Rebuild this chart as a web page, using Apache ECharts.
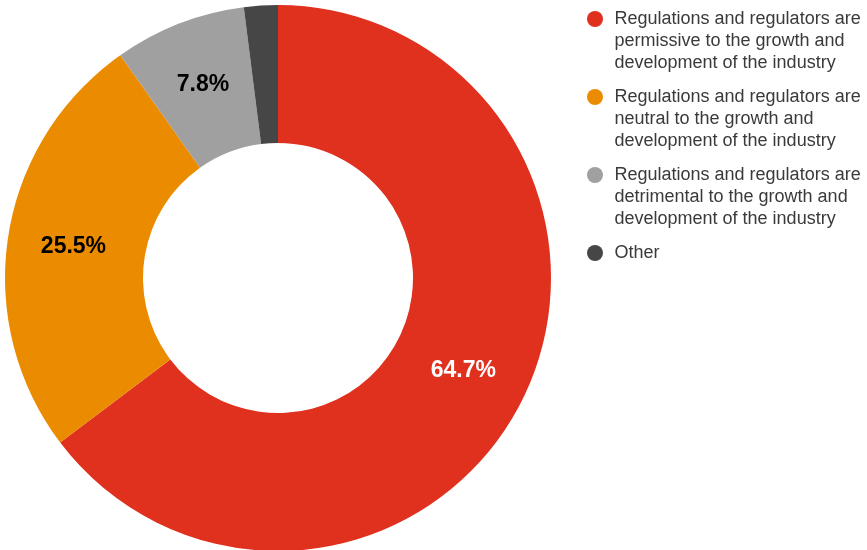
<!DOCTYPE html>
<html>
<head>
<meta charset="utf-8">
<script src="https://cdn.jsdelivr.net/npm/echarts@6/dist/echarts.min.js"></script>
<style>html,body{margin:0;padding:0;background:#fff;}#c{width:867px;height:550px;}</style>
</head>
<body>
<div id="c"></div>
<script>
const categories = [
  'Regulations and regulators are\npermissive to the growth and\ndevelopment of the industry',
  'Regulations and regulators are\nneutral to the growth and\ndevelopment of the industry',
  'Regulations and regulators are\ndetrimental to the growth and\ndevelopment of the industry',
  'Other'
];
const values = [64.7, 25.5, 7.8, 2.0];
const colors = ['#e0301e', '#eb8c00', '#a0a0a0', '#464646'];
const labelColors = ['#ffffff', '#000000', '#000000', '#000000'];
const showLabel = [true, true, true, false];

const chart = echarts.init(document.getElementById('c'), null, {renderer: 'canvas'});
const data = categories.map((n, i) => ({
  name: n,
  value: values[i],
  itemStyle: {color: colors[i]},
  label: {show: showLabel[i], color: labelColors[i]}
}));
// pad each legend text to 5 lines so that its first line sits at the icon's centre
function padLegend(name) {
  const n = name.split('\n').length;
  return '\n\n' + name + '\n'.repeat(Math.max(0, 3 - n));
}
chart.setOption({
  animation: false,
  legend: {
    orient: 'vertical',
    left: 587,
    top: -36,
    padding: 0,
    itemWidth: 29,
    itemHeight: 16,
    itemGap: -32,
    icon: 'circle',
    selectedMode: false,
    formatter: padLegend,
    textStyle: {fontFamily: 'Liberation Sans', fontSize: 18, color: '#3a3a3a', lineHeight: 22},
    data: categories
  },
  series: [{
    type: 'pie',
    center: [278, 278],
    radius: [135, 273],
    startAngle: 90,
    clockwise: true,
    avoidLabelOverlap: false,
    label: {
      position: 'inside',
      formatter: p => p.value.toFixed(1) + '%',
      fontFamily: 'Liberation Sans',
      fontWeight: 'bold',
      fontSize: 23
    },
    labelLine: {show: false},
    emphasis: {disabled: true},
    itemStyle: {borderWidth: 0},
    data: data
  }]
});
</script>
</body>
</html>
